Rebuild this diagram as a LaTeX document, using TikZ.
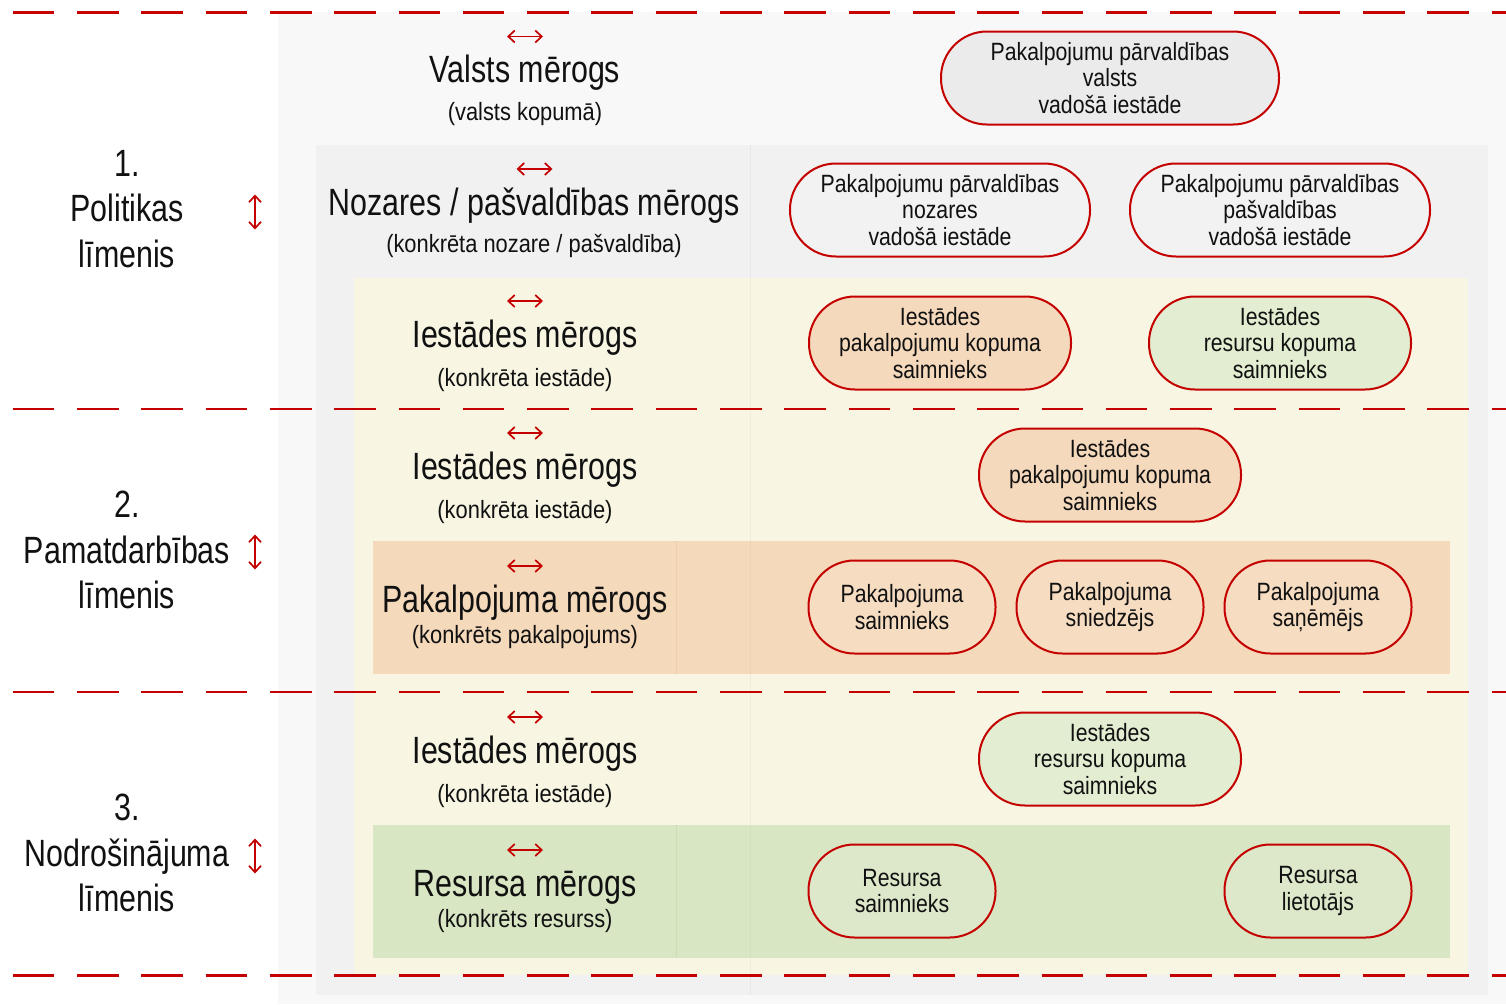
\documentclass[tikz,border=0pt]{standalone}
\usepackage{fontspec}
\setmainfont{Liberation Sans}[FakeStretch=0.85]
\newfontfamily\bigf{Liberation Sans}[FakeStretch=0.80]
\newfontfamily\subf{Liberation Sans}[FakeStretch=0.875]
\usetikzlibrary{arrows.meta}
\definecolor{myred}{RGB}{196,0,0}
\definecolor{bgA}{HTML}{F8F8F8}
\definecolor{bgB}{HTML}{F1F1F1}
\definecolor{bgY}{HTML}{F8F6E3}
\definecolor{bgO}{HTML}{F5D9BB}
\definecolor{bgG}{HTML}{D8E6C3}
\definecolor{divO}{HTML}{EDCDAB}
\definecolor{divG}{HTML}{CCDDB4}
\definecolor{nGrey}{HTML}{EBEBEB}
\definecolor{nGrey2}{HTML}{F2F2F2}
\definecolor{nOr}{HTML}{F5D9BC}
\definecolor{nGr}{HTML}{E2EDD1}
\definecolor{nOr2}{HTML}{F6DDC2}
\definecolor{nGr2}{HTML}{DCE8C9}
\definecolor{txt}{HTML}{111111}
\begin{document}
\begin{tikzpicture}[x=1pt,y=-1pt,
  title/.style={font=\bigf\fontsize{38}{46}\selectfont, anchor=base, inner sep=0pt, text=txt},
  subtitle/.style={font=\subf\fontsize{25}{28}\selectfont, anchor=base, inner sep=0pt, text=txt},
  level/.style={font=\bigf\fontsize{38}{45.5}\selectfont, align=center, inner sep=0pt, text=txt},
  pill/.style={draw=myred, line width=2pt, rounded corners=46pt, minimum height=93pt, align=center, inner sep=0pt, text=txt, font=\fontsize{25}{26.5}\selectfont},
  harrow/.style={draw=myred, line width=1.7pt, {Straight Barb[length=6.5pt,width=12pt]}-{Straight Barb[length=6.5pt,width=12pt]}},
  sepline/.style={draw=myred, line width=2.8pt, dash pattern=on 41.6pt off 22.7pt},
]
\useasboundingbox (0,0) rectangle (1506,1004);
% backgrounds
\fill[white] (0,0) rectangle (1506,1004);
\fill[bgA] (278,12) rectangle (1506,1004);
\fill[bgB] (316,145) rectangle (1488,995);
\fill[bgY] (354,278) rectangle (1468,975);
\draw[black, opacity=0.035, line width=1pt] (750,145) -- (750,995);
\fill[bgO] (373,541) rectangle (1450,674);
\fill[bgG] (373,825) rectangle (1450,958);
\draw[divO, line width=1pt] (676,541) -- (676,674);
\draw[divG, line width=1pt] (676,825) -- (676,958);
\draw[black, opacity=0.025, line width=1pt] (750,541) -- (750,674);
\draw[black, opacity=0.025, line width=1pt] (750,825) -- (750,958);
% separators
\coordinate (s1a) at (12.7,12.3);  \coordinate (s1b) at (1506,12.3);
\coordinate (s2a) at (12.7,409);   \coordinate (s2b) at (1506,409);
\coordinate (s3a) at (12.7,692);   \coordinate (s3b) at (1506,692);
\coordinate (s4a) at (12.7,975.5); \coordinate (s4b) at (1506,975.5);
\draw[sepline] (s1a) -- (s1b);
\draw[sepline] (s2a) -- (s2b);
\draw[sepline] (s3a) -- (s3b);
\draw[sepline] (s4a) -- (s4b);
% level labels
\node[level] (L1) at (127,209) {1.\\Politikas\\līmenis};
\node[level] (L2) at (127,550) {2.\\Pamatdarbības\\līmenis};
\node[level] (L3) at (127,853) {3.\\Nodrošinājuma\\līmenis};
\coordinate (v1) at (255,212);
\coordinate (v2) at (255,552);
\coordinate (v3) at (255,856);
\foreach \c in {v1,v2,v3} \draw[harrow] ([yshift=-17.5pt]\c) -- ([yshift=17.5pt]\c);
% scale titles
\node[title] (T1) at (525,82) {Valsts mērogs};
\node[subtitle] (S1) at (525,120) {(valsts kopumā)};
\node[title] (T2) at (534,215) {Nozares / pašvaldības mērogs};
\node[subtitle] (S2) at (534,252) {(konkrēta nozare / pašvaldība)};
\node[title] (T3) at (525,347) {Iestādes mērogs};
\node[subtitle] (S3) at (525,386) {(konkrēta iestāde)};
\node[title] (T4) at (525,479) {Iestādes mērogs};
\node[subtitle] (S4) at (525,518) {(konkrēta iestāde)};
\node[title] (T5) at (525,612) {Pakalpojuma mērogs};
\node[subtitle] (S5) at (525,643) {(konkrēts pakalpojums)};
\node[title] (T6) at (525,763) {Iestādes mērogs};
\node[subtitle] (S6) at (525,802) {(konkrēta iestāde)};
\node[title] (T7) at (525,896) {Resursa mērogs};
\node[subtitle] (S7) at (525,927) {(konkrēts resurss)};
\coordinate (h1) at (525,36.5);
\coordinate (h2) at (534.5,169);
\coordinate (h3) at (525,301);
\coordinate (h4) at (525,433);
\coordinate (h5) at (525,566);
\coordinate (h6) at (525,717);
\coordinate (h7) at (525,850);
\foreach \c in {h1,h2,h3,h4,h5,h6,h7} \draw[harrow] ([xshift=-18pt]\c) -- ([xshift=18pt]\c);
% role nodes
\node[pill, fill=nGrey, minimum width=338pt] (n1) at (1110,78) {Pakalpojumu pārvaldības\\valsts\\vadošā iestāde};
\node[pill, fill=nGrey2, minimum width=300pt] (n2) at (940,210) {Pakalpojumu pārvaldības\\nozares\\vadošā iestāde};
\node[pill, fill=nGrey2, minimum width=300pt] (n3) at (1280,210) {Pakalpojumu pārvaldības\\pašvaldības\\vadošā iestāde};
\node[pill, fill=nOr, minimum width=262pt] (n4) at (940,343) {Iestādes\\pakalpojumu kopuma\\saimnieks};
\node[pill, fill=nGr, minimum width=262pt] (n5) at (1280,343) {Iestādes\\resursu kopuma\\saimnieks};
\node[pill, fill=nOr, minimum width=262pt] (n6) at (1110,475) {Iestādes\\pakalpojumu kopuma\\saimnieks};
\node[pill, fill=nOr2, minimum width=187pt] (n7) at (902,607) {Pakalpojuma\\saimnieks};
\node[pill, fill=nOr2, minimum width=187pt] (n8) at (1110,607) {Pakalpojuma\\sniedzējs};
\node[pill, fill=nOr2, minimum width=187pt] (n9) at (1318,607) {Pakalpojuma\\saņēmējs};
\node[pill, fill=nGr, minimum width=262pt] (n10) at (1110,759) {Iestādes\\resursu kopuma\\saimnieks};
\node[pill, fill=nGr2, minimum width=187pt] (n11) at (902,891) {Resursa\\saimnieks};
\node[pill, fill=nGr2, minimum width=187pt] (n12) at (1318,891) {Resursa\\lietotājs};
\end{tikzpicture}
\end{document}
